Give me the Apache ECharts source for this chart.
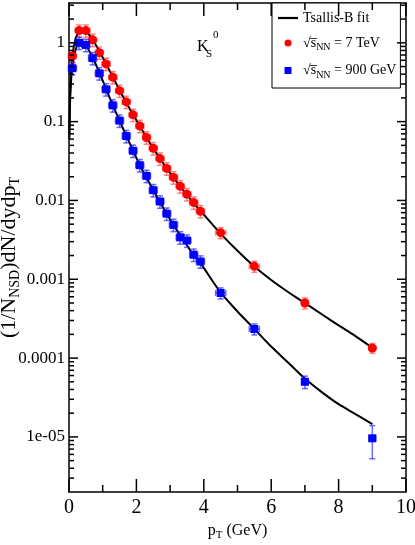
<!DOCTYPE html>
<html>
<head>
<meta charset="utf-8">
<script src="https://cdn.jsdelivr.net/npm/echarts@6/dist/echarts.min.js"></script>
<style>
  html, body { margin: 0; padding: 0; background: #fff; }
  #chart { width: 415px; height: 545px; }
</style>
</head>
<body>
<div id="chart"></div>
<script>
  // measured points (pT in GeV)
  const pT = [0.1, 0.3, 0.5, 0.7, 0.9, 1.1, 1.3, 1.5, 1.7, 1.9, 2.1, 2.3, 2.5, 2.7, 2.9, 3.1, 3.3, 3.5, 3.7, 3.9, 4.5, 5.5, 7, 9];
  const y7TeV = [0.68, 1.43, 1.43, 1.09, 0.75, 0.54, 0.366, 0.247, 0.178, 0.122, 0.088, 0.063, 0.046, 0.034, 0.0255, 0.0196, 0.0151, 0.012, 0.0094, 0.0073, 0.0039, 0.00146, 0.0005, 0.000134];
  const y900GeV = [0.476, 1.0, 0.94, 0.64, 0.41, 0.257, 0.161, 0.103, 0.0656, 0.0427, 0.028, 0.0205, 0.0135, 0.0097, 0.0068, 0.0049, 0.0034, 0.0031, 0.00205, 0.00168, 0.00067, 0.000234, 0.00005, 0.0000096];
  // relative errors in percent
  const err7TeV = [18, 18, 18, 18, 18, 18, 18, 18, 18, 18, 18, 18, 18, 18, 18, 18, 18, 18, 18, 18, 16, 16, 16, 14];
  const err900GeV = [18, 18, 18, 18, 18, 18, 18, 18, 18, 18, 18, 18, 18, 18, 18, 18, 18, 18, 18, 18, 16, 16, 18, 45];
  const pTHalfBin = [0.12, 0.12, 0.12, 0.12, 0.12, 0.12, 0.12, 0.12, 0.12, 0.12, 0.12, 0.12, 0.12, 0.12, 0.12, 0.12, 0.12, 0.12, 0.12, 0.12, 0.15, 0.15, 0.1, 0.1];

  // Tsallis-B fit curves
  const fitPT = [0.01, 0.03, 0.06, 0.1, 0.2, 0.3, 0.4, 0.5, 0.7, 0.9, 1.1, 1.3, 1.5, 1.7, 1.9, 2.1, 2.3, 2.5, 2.7, 2.9, 3.1, 3.3, 3.5, 3.7, 3.9, 4.5, 5, 5.5, 6, 6.5, 7, 7.5, 8, 8.5, 9];
  const fit7TeV = [0.07, 0.2, 0.42, 0.68, 1.15, 1.38, 1.45, 1.4, 1.1, 0.78, 0.54, 0.37, 0.25, 0.175, 0.123, 0.088, 0.063, 0.046, 0.034, 0.0255, 0.0195, 0.015, 0.0118, 0.0092, 0.0074, 0.0038, 0.0023, 0.00145, 0.00098, 0.00069, 0.0005, 0.00036, 0.00026, 0.00019, 0.000135];
  const fit900GeV = [0.06, 0.17, 0.32, 0.5, 0.83, 0.98, 1.0, 0.93, 0.65, 0.42, 0.26, 0.162, 0.103, 0.066, 0.043, 0.028, 0.0195, 0.0135, 0.0095, 0.0068, 0.0049, 0.0036, 0.0027, 0.002, 0.0016, 0.00068, 0.00039, 0.000235, 0.00014, 0.000088, 0.000055, 0.000037, 0.000026, 0.0000195, 0.0000145];

  // axis ranges and ticks
  const X_MIN = 0, X_MAX = 10;
  const Y_MIN = 2e-6, Y_MAX = 3.2;
  const yTickLabels = ['1e-05', '0.0001', '0.001', '0.01', '0.1', '1'];
  const xMajorTicks = [0, 2, 4, 6, 8, 10];
  const xMinorTicks = [1, 3, 5, 7, 9];
  const yMajorTicks = [1e-5, 1e-4, 1e-3, 1e-2, 0.1, 1];
  const yMinorTicks = [];
  [1e-6, 1e-5, 1e-4, 1e-3, 1e-2, 0.1, 1].forEach(d => {
    for (let m = 2; m <= 9; m++) {
      const v = m * d;
      if (v > 2.1e-6 && v < 3.2) yMinorTicks.push(v);
    }
  });

  const NAME_FIT = 'Tsallis-B fit';
  const NAME_7 = '7 TeV';
  const NAME_900 = '900 GeV';

  const serif = 'Liberation Serif, Times New Roman, serif';

  const chart = echarts.init(document.getElementById('chart'));

  function zip(xs, ys, extra) {
    return xs.map((x, i) => extra ? [x, ys[i]].concat(extra.map(a => a[i])) : [x, ys[i]]);
  }

  function errorBars(color) {
    return function (params, api) {
      const x = api.value(0), y = api.value(1);
      const e = api.value(2) / 100, dx = api.value(3);
      const c = api.coord([x, y]);
      const top = api.coord([x, y * (1 + e)])[1];
      const bot = api.coord([x, y * (1 - e)])[1];
      const left = api.coord([x - dx, y])[0];
      const right = api.coord([x + dx, y])[0];
      const cap = 3;
      const style = { stroke: color, lineWidth: 1.5 };
      const seg = (x1, y1, x2, y2) => ({ type: 'line', shape: { x1, y1, x2, y2 }, style });
      return {
        type: 'group',
        children: [
          seg(c[0], top, c[0], bot),
          seg(c[0] - cap, top, c[0] + cap, top),
          seg(c[0] - cap, bot, c[0] + cap, bot),
          seg(left, c[1], right, c[1]),
          seg(left, c[1] - cap, left, c[1] + cap),
          seg(right, c[1] - cap, right, c[1] + cap)
        ]
      };
    };
  }

  // ticks on all four sides of the frame, pointing inwards
  // kind: 0 x major, 1 x minor, 2 y major, 3 y minor
  function renderTick(params, api) {
    const kind = api.value(2);
    const p = api.coord([api.value(0), api.value(1)]);
    const lo = api.coord([X_MIN, Y_MIN]);
    const hi = api.coord([X_MAX, Y_MAX]);
    const style = { stroke: '#000', lineWidth: 1.5 };
    const len = [13, 7, 9, 5][kind];
    if (kind < 2) {
      return { type: 'group', children: [
        { type: 'line', shape: { x1: p[0], y1: lo[1], x2: p[0], y2: lo[1] - len }, style },
        { type: 'line', shape: { x1: p[0], y1: hi[1], x2: p[0], y2: hi[1] + len }, style }
      ] };
    }
    return { type: 'group', children: [
      { type: 'line', shape: { x1: lo[0], y1: p[1], x2: lo[0] + len, y2: p[1] }, style },
      { type: 'line', shape: { x1: hi[0], y1: p[1], x2: hi[0] - len, y2: p[1] }, style }
    ] };
  }
  const tickData = []
    .concat(xMajorTicks.map(v => [v, 1, 0]))
    .concat(xMinorTicks.map(v => [v, 1, 1]))
    .concat(yMajorTicks.map(v => [5, v, 2]))
    .concat(yMinorTicks.map(v => [5, v, 3]));

  function xFrame(pos) {
    return {
      type: 'value', min: X_MIN, max: X_MAX, interval: 2, position: pos,
      axisLine: { show: true, onZero: false, lineStyle: { color: '#000', width: 1.5 } },
      axisTick: { show: false },
      minorTick: { show: false },
      splitLine: { show: false },
      axisLabel: { show: false }
    };
  }
  function yFrame(pos) {
    return {
      type: 'log', logBase: 10, min: Y_MIN, max: Y_MAX, position: pos,
      axisLine: { show: true, onZero: false, lineStyle: { color: '#000', width: 1.5 } },
      axisTick: { show: false },
      minorTick: { show: false },
      splitLine: { show: false },
      axisLabel: { show: false }
    };
  }

  const xBottom = xFrame('bottom');
  xBottom.name = '{p|p}{s|T}{p| (GeV)}';
  xBottom.nameLocation = 'middle';
  xBottom.nameGap = 24;
  xBottom.nameTextStyle = {
    rich: {
      p: { fontFamily: serif, fontSize: 16, color: '#000' },
      s: { fontFamily: serif, fontSize: 11, color: '#000', padding: [9, 0, 0, 0] }
    }
  };
  xBottom.axisLabel = { show: true, fontFamily: serif, fontSize: 20, color: '#000', margin: 6 };

  const yLeft = yFrame('left');
  yLeft.name = '{p|(1/N}{s|NSD}{p|)dN/dydp}{s|T}';
  yLeft.nameLocation = 'middle';
  yLeft.nameRotate = 90;
  yLeft.nameGap = 47;
  yLeft.nameMoveOverlap = false;
  yLeft.nameTextStyle = {
    padding: [0, 20, 0, 0],
    rich: {
      p: { fontFamily: serif, fontSize: 22, color: '#000' },
      s: { fontFamily: serif, fontSize: 14, color: '#000', padding: [11, 0, 0, 0] }
    }
  };
  yLeft.axisLabel = {
    show: true, fontFamily: serif, fontSize: 17, color: '#000', margin: 4,
    formatter: function (v) {
      const l = Math.log10(v);
      const e = Math.round(l);
      if (Math.abs(l - e) > 1e-6) return '';
      return yTickLabels[e + 5] || '';
    }
  };

  const option = {
    animation: false,
    backgroundColor: '#fff',
    grid: { left: 69, right: 9, top: 3, bottom: 53, containLabel: false, outerBoundsMode: 'none' },
    xAxis: [xBottom, xFrame('top')],
    yAxis: [yLeft, yFrame('right')],
    legend: {
      orient: 'vertical',
      left: 272, top: 3,
      padding: [8, 4, 8, 6],
      itemGap: 11,
      itemWidth: 20, itemHeight: 7,
      backgroundColor: '#fff',
      borderColor: '#000', borderWidth: 1, borderRadius: 0,
      data: [
        { name: NAME_FIT, icon: 'path://M0,0H20V2.2H0Z' },
        { name: NAME_7, icon: 'circle' },
        { name: NAME_900, icon: 'path://M0,0H10V10H0Z' }
      ],
      formatter: function (name) {
        if (name === NAME_FIT) return '{t|' + name + '}';
        return '{t|\u221As\u0305}{s|NN}{t| = ' + name + '}';
      },
      textStyle: {
        rich: {
          t: { fontFamily: serif, fontSize: 14, color: '#000' },
          s: { fontFamily: serif, fontSize: 10, color: '#000', padding: [9, 0, 0, 0] }
        }
      }
    },
    graphic: [
      { type: 'text', left: 197, top: 39, style: { text: 'K', font: '16px ' + serif, fill: '#000' } },
      { type: 'text', left: 206, top: 49, style: { text: 'S', font: '11px ' + serif, fill: '#000' } },
      { type: 'text', left: 213, top: 30, style: { text: '0', font: '11px ' + serif, fill: '#000' } }
    ],
    series: [
      {
        name: NAME_FIT, type: 'line', smooth: 0.3, symbol: 'none',
        lineStyle: { color: '#000', width: 2 }, itemStyle: { color: '#000' },
        data: zip(fitPT, fit7TeV), z: 3
      },
      {
        name: NAME_FIT, type: 'line', smooth: 0.3, symbol: 'none',
        lineStyle: { color: '#000', width: 2 }, itemStyle: { color: '#000' },
        data: zip(fitPT, fit900GeV), z: 3
      },
      {
        name: NAME_7 + ' err', type: 'custom', renderItem: errorBars('rgba(255,40,40,0.55)'),
        encode: { x: 0, y: 1 }, data: zip(pT, y7TeV, [err7TeV, pTHalfBin]), z: 4
      },
      {
        name: NAME_900 + ' err', type: 'custom', renderItem: errorBars('rgba(30,30,255,0.65)'),
        encode: { x: 0, y: 1 }, data: zip(pT, y900GeV, [err900GeV, pTHalfBin]), z: 4
      },
      {
        name: NAME_7, type: 'scatter', symbol: 'circle', symbolSize: 9,
        itemStyle: { color: '#ff0000', opacity: 1 }, data: zip(pT, y7TeV), z: 5
      },
      {
        name: NAME_900, type: 'scatter', symbol: 'rect', symbolSize: 8,
        itemStyle: { color: '#0000ff', opacity: 1 }, data: zip(pT, y900GeV), z: 5
      },
      {
        name: 'ticks', type: 'custom', renderItem: renderTick, silent: true,
        encode: { x: 0, y: 1 }, data: tickData, z: 6
      }
    ]
  };
  chart.setOption(option);
</script>
</body>
</html>
